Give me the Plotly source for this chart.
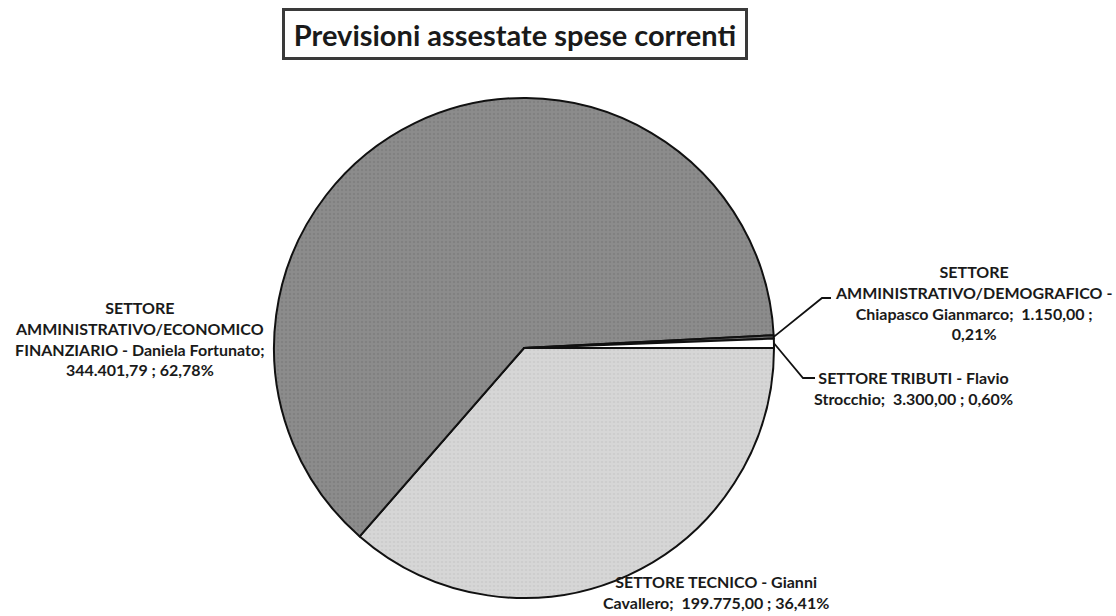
import math
import plotly.graph_objects as go

# ---- data ----
categories = [
    "SETTORE TECNICO - Gianni Cavallero",
    "SETTORE AMMINISTRATIVO/ECONOMICO FINANZIARIO - Daniela Fortunato",
    "SETTORE AMMINISTRATIVO/DEMOGRAFICO - Chiapasco Gianmarco",
    "SETTORE TRIBUTI - Flavio Strocchio",
]
values = [199775.00, 344401.79, 1150.00, 3300.00]
value_labels = ["199.775,00", "344.401,79", "1.150,00", "3.300,00"]
pct_labels = ["36,41%", "62,78%", "0,21%", "0,60%"]
title_text = "Previsioni assestate spese correnti"

# ---- style ----
W, H = 1116, 616
FONT = "Lato"
TXT = "#1a1a1a"
slice_colors = ["#d6d6d6", "#8c8c8c", "#6f6f6f", "#ffffff"]
pattern_fg = ["#c4c4c4", "#767676", "#6f6f6f", "#ffffff"]

# pie geometry (pixels)
cx, cy, r = 524, 348, 250


def px(x):
    return x / W


def py(y):
    return 1 - y / H


fig = go.Figure()
fig.add_trace(go.Pie(
    labels=categories,
    values=values,
    sort=False,
    direction="clockwise",
    rotation=90,
    textinfo="none",
    hoverinfo="label+value+percent",
    showlegend=False,
    marker=dict(
        colors=slice_colors,
        line=dict(color="#111111", width=2),
        pattern=dict(shape=[".", ".", "", ""], fgcolor=pattern_fg,
                     size=4, solidity=0.35, fillmode="overlay"),
    ),
    domain=dict(x=[px(cx - r), px(cx + r)], y=[py(cy + r), py(cy - r)]),
))

# edge points of slice midpoints (computed from the data)
total = sum(values)
edge = []
cum = 0.0
for v in values:
    mid = (cum + v / 2) / total
    th = math.radians(mid * 360.0)  # clockwise from 3 o'clock
    edge.append((cx + r * math.cos(th), cy + r * math.sin(th)))
    cum += v

LBL = 16
annotations = [
    # title box
    dict(x=px(515), y=py(33.5), xref="paper", yref="paper", showarrow=False,
         text="<b>" + title_text + "</b>",
         font=dict(family=FONT, size=29, color=TXT),
         bordercolor="#3a3a3a", borderwidth=3, borderpad=3, bgcolor="white",
         width=454, height=40,
         xanchor="center", yanchor="middle"),
    # economico
    dict(x=px(140), y=py(338), xref="paper", yref="paper", showarrow=False,
         text="<b>SETTORE<br>AMMINISTRATIVO/ECONOMICO<br>FINANZIARIO - Daniela Fortunato;<br>"
              + value_labels[1] + " ; " + pct_labels[1] + "</b>",
         font=dict(family=FONT, size=LBL, color=TXT), align="center",
         xanchor="center", yanchor="middle"),
    # demografico
    dict(x=px(973), y=py(303), xref="paper", yref="paper", showarrow=False,
         text="<b>SETTORE<br>AMMINISTRATIVO/DEMOGRAFICO -<br>Chiapasco Gianmarco;  "
              + value_labels[2] + " ;<br>" + pct_labels[2] + "</b>",
         font=dict(family=FONT, size=LBL, color=TXT), align="center",
         xanchor="center", yanchor="middle"),
    # tributi
    dict(x=px(913), y=py(388), xref="paper", yref="paper", showarrow=False,
         text="<b>SETTORE TRIBUTI - Flavio<br>Strocchio;  " + value_labels[3]
              + " ; " + pct_labels[3] + "</b>",
         font=dict(family=FONT, size=LBL, color=TXT), align="center",
         xanchor="center", yanchor="middle"),
    # tecnico
    dict(x=px(716), y=py(592), xref="paper", yref="paper", showarrow=False,
         text="<b>SETTORE TECNICO - Gianni<br>Cavallero;  " + value_labels[0]
              + " ; " + pct_labels[0] + "</b>",
         font=dict(family=FONT, size=LBL, color=TXT), align="center",
         xanchor="center", yanchor="middle"),
]

# leader lines
shapes = []
leaders = [
    (2, (822, 298), (831, 298)),
    (3, (803, 378), (815, 378)),
]
for idx, elbow, end in leaders:
    ex, ey = edge[idx]
    shapes.append(dict(type="path", xref="paper", yref="paper",
                       path=f"M {px(ex)},{py(ey)} L {px(elbow[0])},{py(elbow[1])} L {px(end[0])},{py(end[1])}",
                       line=dict(color="#111111", width=1.8)))

fig.update_layout(
    width=W, height=H,
    margin=dict(l=0, r=0, t=0, b=0),
    paper_bgcolor="white", plot_bgcolor="white",
    annotations=annotations, shapes=shapes,
    font=dict(family=FONT, color=TXT),
)

fig.write_html("out.html", config={"displayModeBar": False},
               post_script="document.body.style.margin='0';document.body.style.overflow='hidden';")
